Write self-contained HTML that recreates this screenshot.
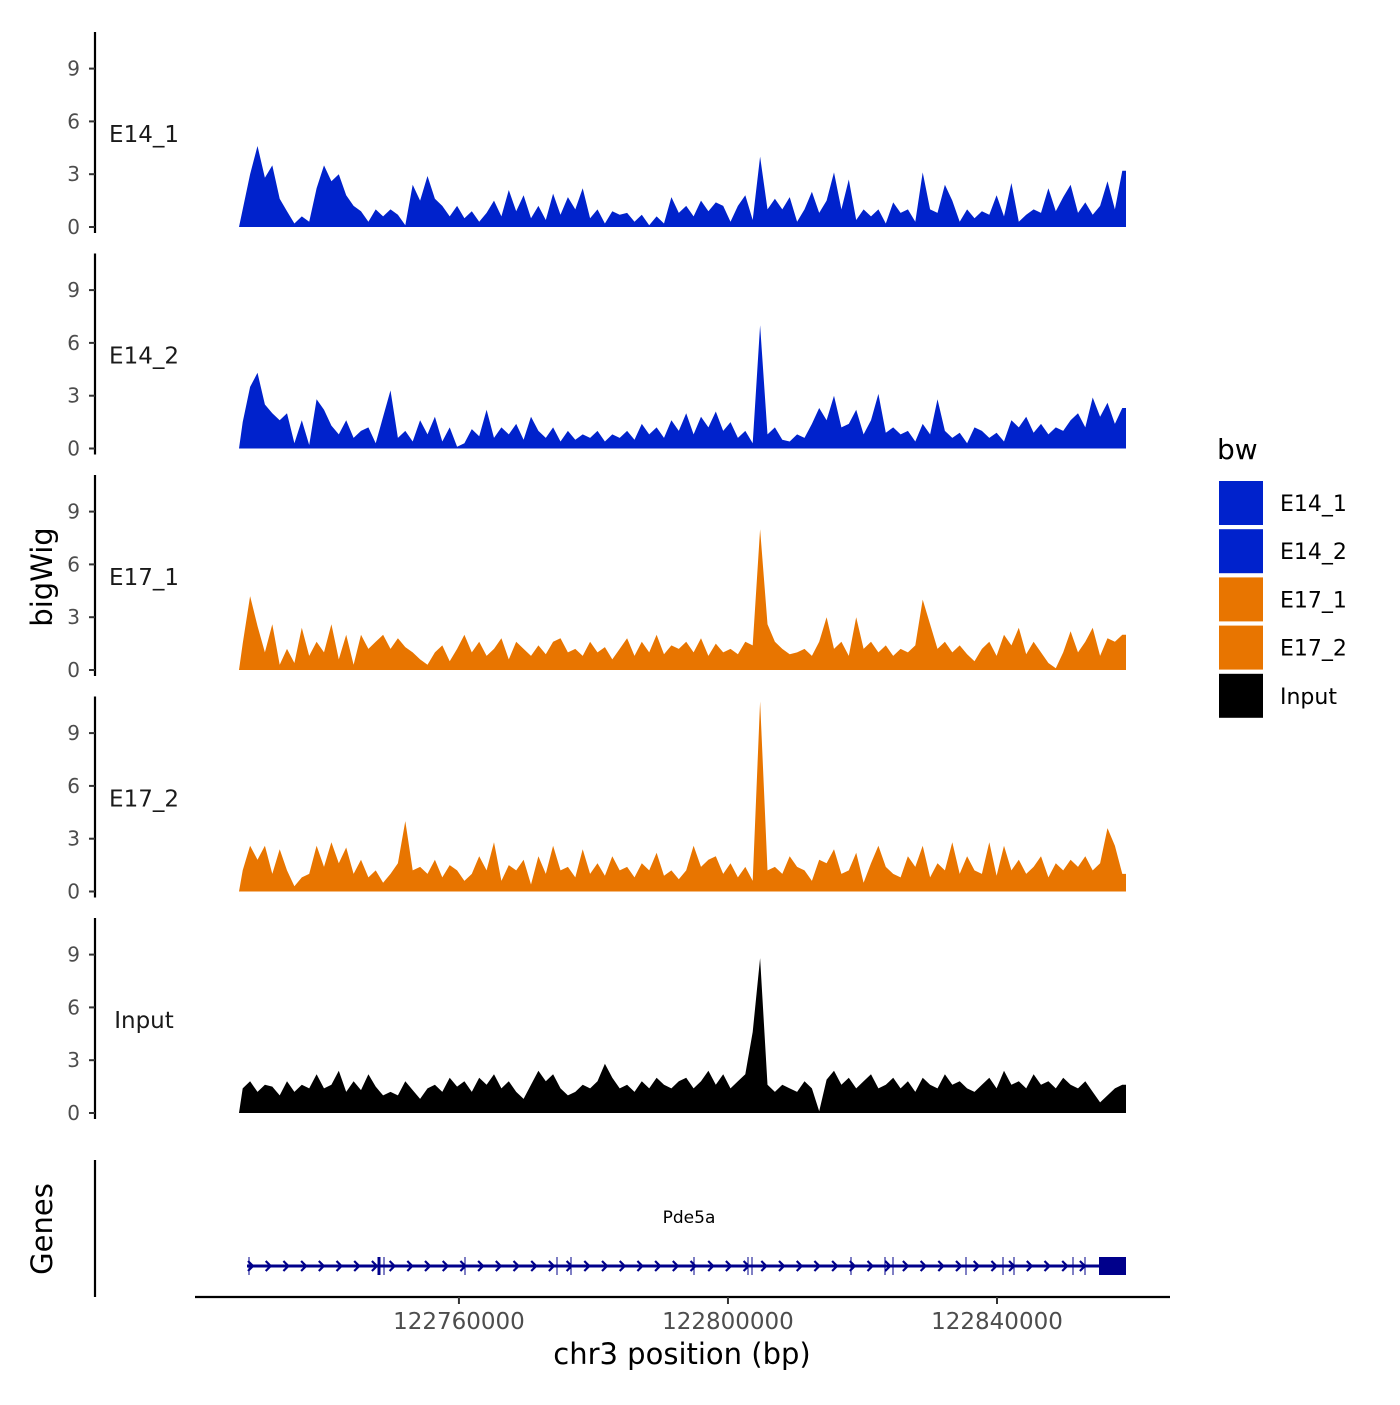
<!DOCTYPE html>
<html><head><meta charset="utf-8">
<style>
body{margin:0;background:#fff;}
svg text{font-family:"DejaVu Sans","Liberation Sans",sans-serif;}
</style></head>
<body>
<svg id="chart" width="1400" height="1400" viewBox="0 0 1400 1400" xmlns="http://www.w3.org/2000/svg">
<rect width="1400" height="1400" fill="#fff"/>
<g id="tracks"></g>
<g id="genes"></g>
<g id="xaxis"></g>
<g id="legend"></g>
</svg>
<script>
const trackNames = ["E14_1","E14_2","E17_1","E17_2","Input"];
const trackColors = ["#0022CC","#0022CC","#E87500","#E87500","#000000"];
const yTicks = [0,3,6,9];
const xTicks = [122760000,122800000,122840000];
const xTickLabels = ["122760000","122800000","122840000"];
const e14_1 = [1.0,3.0,4.6,2.8,3.5,1.6,0.9,0.2,0.6,0.3,
2.2,3.5,2.6,3.0,1.8,1.2,0.9,0.3,1.0,0.6,
1.0,0.7,0.1,2.4,1.5,2.9,1.6,1.2,0.6,1.2,
0.5,0.9,0.3,0.8,1.5,0.6,2.1,0.9,1.8,0.5,
1.2,0.4,1.9,0.7,1.7,1.0,2.2,0.5,1.0,0.2,
0.9,0.7,0.8,0.3,0.7,0.1,0.6,0.2,1.7,0.8,
1.2,0.6,1.5,0.9,1.4,1.2,0.3,1.2,1.8,0.4,
4.0,1.0,1.6,1.0,1.7,0.3,1.0,2.0,0.8,1.5,
3.1,1.0,2.7,0.4,1.0,0.6,1.0,0.2,1.4,0.8,
1.0,0.3,3.1,1.0,0.8,2.4,1.5,0.3,1.0,0.5,
0.9,0.7,1.8,0.6,2.5,0.3,0.7,1.0,0.8,2.2,
0.9,1.7,2.4,0.8,1.4,0.7,1.2,2.6,1.0,3.2];
const e14_2 = [1.5,3.5,4.3,2.5,2.0,1.6,2.0,0.3,1.6,0.2,
2.8,2.2,1.3,0.8,1.6,0.6,1.0,1.2,0.3,1.8,
3.3,0.6,1.0,0.4,1.6,0.8,1.8,0.4,1.2,0.1,
0.3,1.1,0.7,2.2,0.6,1.2,0.8,1.4,0.5,1.8,
1.0,0.6,1.2,0.4,1.0,0.5,0.8,0.6,1.0,0.4,
0.8,0.6,1.0,0.5,1.4,0.8,1.2,0.6,1.6,1.0,
2.0,0.8,1.8,1.2,2.1,1.0,1.5,0.6,1.0,0.3,
7.0,0.8,1.2,0.5,0.4,0.8,0.6,1.4,2.3,1.6,
3.0,1.2,1.4,2.2,0.8,1.6,3.1,0.9,1.2,0.8,
1.0,0.4,1.4,0.8,2.8,1.0,0.6,0.9,0.3,1.2,
1.0,0.6,0.9,0.4,1.6,1.2,1.8,0.9,1.4,0.8,
1.2,1.0,1.6,2.0,1.2,2.9,1.8,2.6,1.4,2.3];
const e17_1 = [1.5,4.2,2.5,1.0,2.6,0.3,1.2,0.4,2.4,0.8,
1.6,1.0,2.6,0.6,2.0,0.3,2.0,1.2,1.6,2.0,
1.2,1.8,1.3,1.0,0.6,0.3,1.0,1.4,0.5,1.2,
2.0,1.0,1.6,0.8,1.2,1.8,0.6,1.6,1.2,0.8,
1.4,0.9,1.6,1.8,1.0,1.2,0.8,1.6,1.0,1.3,
0.6,1.2,1.8,0.8,1.6,1.0,2.0,0.9,1.4,1.2,
1.6,1.0,1.8,0.8,1.5,1.0,1.2,0.9,1.6,1.4,
8.0,2.6,1.6,1.2,0.9,1.0,1.2,0.8,1.6,3.0,
1.2,1.6,0.8,3.0,1.2,1.6,1.0,1.4,0.8,1.2,
1.0,1.4,4.0,2.6,1.2,1.6,1.0,1.4,0.9,0.5,
1.2,1.6,0.8,2.0,1.4,2.4,0.9,1.6,1.0,0.4,
0.1,1.0,2.2,1.0,1.6,2.4,0.8,1.8,1.6,2.0];
const e17_2 = [1.2,2.6,1.8,2.6,1.0,2.4,1.2,0.3,0.8,1.0,
2.6,1.4,2.8,1.6,2.5,1.0,1.8,0.8,1.2,0.5,
1.0,1.6,4.0,1.2,1.4,1.0,1.8,0.8,1.5,1.2,
0.6,1.0,2.0,1.2,2.8,0.6,1.5,1.2,1.8,0.4,
2.0,1.0,2.6,1.2,1.4,0.8,2.4,1.0,1.6,0.9,
2.0,1.2,1.4,0.8,1.6,1.2,2.2,0.9,1.2,0.7,
1.2,2.6,1.4,1.8,2.0,1.0,1.6,0.8,1.4,0.6,
10.8,1.2,1.4,1.0,2.0,1.4,1.2,0.6,1.8,1.6,
2.4,1.0,1.2,2.2,0.5,1.6,2.6,1.4,1.0,0.8,
2.0,1.4,2.6,0.8,1.6,1.2,2.8,1.0,2.0,1.2,
1.0,2.8,0.9,2.6,1.2,1.8,1.0,1.4,2.0,0.8,
1.6,1.2,1.8,1.4,2.0,1.2,1.6,3.6,2.6,1.0];
const inputVals = [1.4,1.8,1.2,1.6,1.5,1.0,1.8,1.2,1.6,1.4,
2.2,1.4,1.6,2.4,1.2,1.8,1.3,2.2,1.5,1.0,
1.2,1.0,1.8,1.3,0.8,1.4,1.6,1.2,2.0,1.5,
1.8,1.2,2.0,1.6,2.2,1.4,1.8,1.2,0.8,1.6,
2.4,1.8,2.2,1.4,1.0,1.2,1.6,1.4,1.8,2.8,
2.0,1.4,1.6,1.2,1.8,1.4,2.0,1.6,1.4,1.8,
2.0,1.4,1.8,2.4,1.6,2.2,1.4,1.8,2.2,4.6,
8.8,1.6,1.2,1.6,1.4,1.2,1.8,1.4,0.1,1.9,
2.4,1.6,2.0,1.4,1.8,2.2,1.4,1.6,2.0,1.4,
1.8,1.2,2.0,1.6,1.4,2.2,1.6,1.8,1.4,1.2,
1.6,2.0,1.4,2.4,1.6,1.8,1.4,2.2,1.6,1.8,
1.4,2.0,1.6,1.4,1.8,1.2,0.6,1.0,1.4,1.6];
const trackData = [e14_1,e14_2,e17_1,e17_2,inputVals];

const NS="http://www.w3.org/2000/svg";
function mk(tag, attrs, parent){const e=document.createElementNS(NS,tag);for(const k in attrs)e.setAttribute(k,attrs[k]);parent.appendChild(e);return e;}
const bpStart=122727300, bpEnd=122859180;
const xScale=bp=>239+(bp-bpStart)/(bpEnd-bpStart)*887;
const x0=239, x1=1126;
const tracksG=document.getElementById('tracks');
for(let t=0;t<trackNames.length;t++){
  const base=227+t*221.5;
  const yS=v=>base-v*17.6;
  const g=mk('g',{},tracksG);
  
  
  const ax=mk('line',{x1:95,x2:95,y1:base-195,y2:base+6,stroke:'#000','stroke-width':2.2},g);
  
  
  yTicks.forEach(v=>{
    const tk=mk('line',{x1:89,x2:95,y1:yS(v),y2:yS(v),stroke:'#333','stroke-width':2},g);
    
    
    const tl=mk('text',{x:80,y:yS(v)+7,'text-anchor':'end','font-size':20,fill:'#4d4d4d'},g);
    tl.textContent=v;
    
    
  });
  const lab=mk('text',{x:144,y:base-85,'text-anchor':'middle','font-size':23,fill:'#1a1a1a'},g);
  lab.textContent=trackNames[t];
  
  
  const d=trackData[t];
  const step=(x1-x0)/d.length;
  let p='M'+x0+','+base;
  d.forEach((v,i)=>{p+=' L'+(x0+i*step+step*0.5).toFixed(1)+','+yS(v).toFixed(1);});
  p+=' L'+x1+','+yS(d[d.length-1]).toFixed(1)+' L'+x1+','+base+' Z';
  const area=mk('path',{d:p,fill:trackColors[t]},g);
  
  
}
const yt=mk('text',{x:0,y:0,'font-size':29,'text-anchor':'middle',transform:'translate(52,577) rotate(-90)'},tracksG);
yt.textContent='bigWig';



// Genes
const gg=document.getElementById('genes');
const gax=mk('line',{x1:95,x2:95,y1:1160,y2:1297,stroke:'#000','stroke-width':2.2},gg);


const gt=mk('text',{x:0,y:0,'font-size':29,'text-anchor':'middle',transform:'translate(52,1229) rotate(-90)'},gg);
gt.textContent='Genes';


const gl=mk('line',{x1:247,x2:1126,y1:1266,y2:1266,stroke:'#00008B','stroke-width':3},gg);


for(let x=251;x<1100;x+=17.7){
  const c=mk('path',{d:`M${x-3},${1261} L${x+2},${1266} L${x-3},${1271}`,stroke:'#00008B','stroke-width':2.2,fill:'none'},gg);
  
  
}
[249,379,384,465,557,571,694,748,752,851,885,893,966,1003,1014,1073,1085].forEach(x=>{
  const e=mk('line',{x1:x,x2:x,y1:1257,y2:1275,stroke:'#00008B','stroke-width':x==379?3:1},gg);
  
  
});
const ex=mk('rect',{x:1099,y:1257,width:27,height:18,fill:'#00008B'},gg);


const gn=mk('text',{x:689,y:1223,'text-anchor':'middle','font-size':17,fill:'#000'},gg);
gn.textContent='Pde5a';



// X axis
const xg=document.getElementById('xaxis');
const xl=mk('line',{x1:195,x2:1170,y1:1297,y2:1297,stroke:'#000','stroke-width':2.2},xg);


xTicks.forEach((v,i)=>{
  const x=xScale(v);
  const tk=mk('line',{x1:x,x2:x,y1:1297,y2:1304,stroke:'#333','stroke-width':2},xg);
  
  
  const tl=mk('text',{x:x,y:1329,'text-anchor':'middle','font-size':23,fill:'#4d4d4d'},xg);
  tl.textContent=xTickLabels[i];
  
  
});
const xt=mk('text',{x:682,y:1364,'text-anchor':'middle','font-size':29},xg);
xt.textContent='chr3 position (bp)';



// Legend
const lg=document.getElementById('legend');
const ltit=mk('text',{x:1217,y:459,'font-size':28},lg);
ltit.textContent='bw';


trackNames.forEach((n,i)=>{
  const y=480+i*48.2;
  const r=mk('rect',{x:1218,y:y,width:46,height:46,fill:trackColors[i],stroke:'#fff','stroke-width':2},lg);
  
  
  const t=mk('text',{x:1280,y:y+31,'font-size':22},lg);
  t.textContent=n;
  
  
});
</script>
</body></html>
